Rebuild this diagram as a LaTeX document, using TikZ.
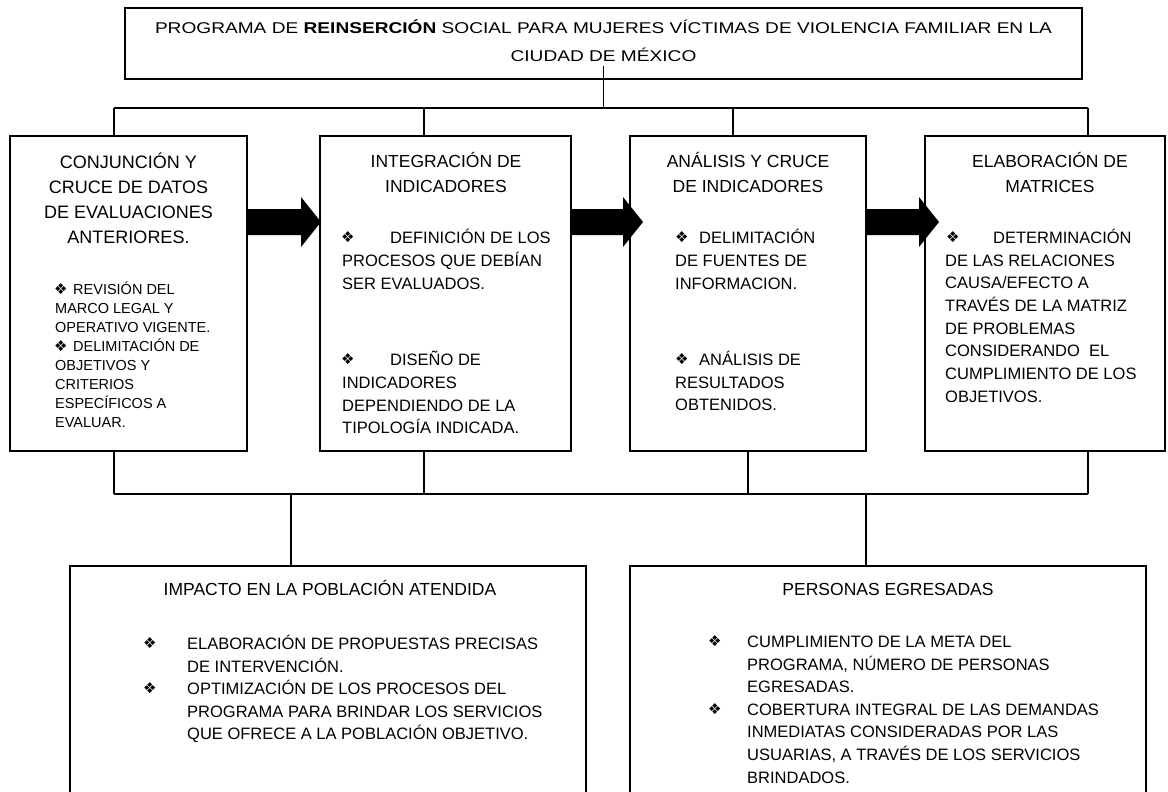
\documentclass[tikz,border=0pt]{standalone}
\usepackage{fontspec}
\usepackage{graphicx}
\setmainfont{Liberation Sans}
\newfontfamily\dejavu{DejaVu Sans}
\usetikzlibrary{calc}
\newsavebox\titlebox
\newlength\titlew
\newcommand\barrow[2]{\fill ($(#1.north east)+(0,-73)$) -- ++({#2-20},0) -- ++(0,12) -- ++(20,-25) -- ++(-20,-25) -- ++(0,12) -- ++({-(#2-20)},0) -- cycle;}
\newcommand\titleone{PROGRAMA DE \textbf{REINSERCIÓN} SOCIAL PARA MUJERES VÍCTIMAS DE VIOLENCIA FAMILIAR EN LA}
\tikzset{
  box/.style={draw, line width=1.3pt, inner sep=0pt, outer sep=0pt, anchor=north west},
  conn/.style={line width=1.3pt},
  hdrA/.style={anchor=base, inner sep=0pt, font=\fontsize{18}{20}\selectfont},
  hdr/.style={anchor=base, inner sep=0pt, font=\fontsize{17.5}{20}\selectfont},
  txt/.style={anchor=base west, inner sep=0pt, font=\fontsize{16.5}{20}\selectfont},
  smalltxt/.style={anchor=base west, inner sep=0pt, font=\fontsize{14.5}{18}\selectfont},
  bul/.style={anchor=west, inner sep=0pt, font=\dejavu\fontsize{15}{16}\selectfont},
  ttl/.style={anchor=base, inner sep=0pt, font=\fontsize{15.6}{20}\selectfont},
}
\begin{document}
\begin{tikzpicture}[x=1pt,y=1pt]
\useasboundingbox (0,0) rectangle (1168,-792);
\fill[white] (0,0) rectangle (1168,-792);
\clip (0,0) rectangle (1168,-792);
% boxes
\node[box, minimum width=957, minimum height=71] (top) at (125,-8) {};
\node[box, minimum width=237, minimum height=315] (b1) at (10,-136) {};
\node[box, minimum width=251, minimum height=315] (b2) at (320,-136) {};
\node[box, minimum width=236, minimum height=315] (b3) at (630,-136) {};
\node[box, minimum width=240, minimum height=315] (b4) at (925,-136) {};
\node[box, minimum width=516, minimum height=250] (b5) at (70,-566) {};
\node[box, minimum width=516, minimum height=250] (b6) at (630,-566) {};
% title
\node[ttl] (title0) at (603.5,-33.5) {\sbox\titlebox{\titleone}\setlength\titlew{\wd\titlebox}\pgfmathsetmacro\tsx{897/\titlew}\xdef\tsxg{\tsx}\scalebox{\tsx}[1]{\usebox\titlebox}};
\node[ttl] (title1) at (603.5,-61.5) {\scalebox{\tsxg}[1]{CIUDAD DE MÉXICO}};
% connectors top
\coordinate (t1) at (114,-108);
\coordinate (t2) at (424,-108);
\coordinate (t3) at (733,-108);
\coordinate (t4) at (1088,-108);
\draw[conn] ([yshift=13pt]top.south) -- (top.south |- t1);
\draw[conn] (t1) -- (t4);
\foreach \k in {1,...,4} \draw[conn] (t\k) -- (t\k |- b\k.north);
% connectors bottom
\coordinate (u1) at (114,-494);
\coordinate (u2) at (424,-494);
\coordinate (u3) at (748,-494);
\coordinate (u4) at (1088,-494);
\draw[conn] (u1) -- (u4);
\foreach \k in {1,...,4} \draw[conn] (u\k) -- (u\k |- b\k.south);
\coordinate (d5) at (291,-494);
\coordinate (d6) at (866,-494);
\draw[conn] (d5) -- (d5 |- b5.north);
\draw[conn] (d6) -- (d6 |- b6.north);
% block arrows
\barrow{b1}{74}
\barrow{b2}{72}
\barrow{b3}{73}
% box 1
\node[hdrA] (h1a) at (128.5,-168) {CONJUNCIÓN Y};
\node[hdrA] (h1b) at (128.5,-193) {CRUCE DE DATOS};
\node[hdrA] (h1c) at (128.5,-218) {DE EVALUACIONES};
\node[hdrA] (h1d) at (128.5,-243) {ANTERIORES.};
\node[bul] (p1a) at (54,-289) {❖};
\node[smalltxt] (l1a) at (73,-294) {REVISIÓN DEL};
\node[smalltxt] (l1b) at (55,-313) {MARCO LEGAL Y};
\node[smalltxt] (l1c) at (55,-332) {OPERATIVO VIGENTE.};
\node[bul] (p1b) at (54,-346) {❖};
\node[smalltxt] (l1d) at (73,-351) {DELIMITACIÓN DE};
\node[smalltxt] (l1e) at (55,-370) {OBJETIVOS Y};
\node[smalltxt] (l1f) at (55,-389) {CRITERIOS};
\node[smalltxt] (l1g) at (55,-408) {ESPECÍFICOS A};
\node[smalltxt] (l1h) at (55,-427) {EVALUAR.};
% box 2
\node[hdr] (h2a) at (446,-167) {INTEGRACIÓN DE};
\node[hdr] (h2b) at (446,-192) {INDICADORES};
\node[bul] (p2a) at (341,-237) {❖};
\node[txt] (l2a) at (390,-243) {DEFINICIÓN DE LOS};
\node[txt] (l2b) at (342,-266) {PROCESOS QUE DEBÍAN};
\node[txt] (l2c) at (342,-289) {SER EVALUADOS.};
\node[bul] (p2b) at (341,-359) {❖};
\node[txt] (l2d) at (390,-365) {DISEÑO DE};
\node[txt] (l2e) at (342,-388) {INDICADORES};
\node[txt] (l2f) at (342,-411) {DEPENDIENDO DE LA};
\node[txt] (l2g) at (342,-433) {TIPOLOGÍA INDICADA.};
% box 3
\node[hdr] (h3a) at (748,-167) {ANÁLISIS Y CRUCE};
\node[hdr] (h3b) at (748,-192) {DE INDICADORES};
\node[bul] (p3a) at (675,-237) {❖};
\node[txt] (l3a) at (699,-243) {DELIMITACIÓN};
\node[txt] (l3b) at (675,-266) {DE FUENTES DE};
\node[txt] (l3c) at (675,-289) {INFORMACION.};
\node[bul] (p3b) at (675,-359) {❖};
\node[txt] (l3d) at (699,-365) {ANÁLISIS DE};
\node[txt] (l3e) at (675,-388) {RESULTADOS};
\node[txt] (l3f) at (675,-410) {OBTENIDOS.};
% box 4
\node[hdr] (h4a) at (1050,-167) {ELABORACIÓN DE};
\node[hdr] (h4b) at (1050,-192) {MATRICES};
\node[bul] (p4a) at (946,-237) {❖};
\node[txt] (l4a) at (993,-243) {DETERMINACIÓN};
\node[txt] (l4b) at (945,-266) {DE LAS RELACIONES};
\node[txt] (l4c) at (945,-288) {CAUSA/EFECTO A};
\node[txt] (l4d) at (945,-311) {TRAVÉS DE LA MATRIZ};
\node[txt] (l4e) at (945,-334) {DE PROBLEMAS};
\node[txt] (l4f) at (945,-356) {CONSIDERANDO\ \ EL};
\node[txt] (l4g) at (945,-379) {CUMPLIMIENTO DE LOS};
\node[txt] (l4h) at (945,-402) {OBJETIVOS.};
% box 5
\node[hdr] (h5) at (330,-595) {IMPACTO EN LA POBLACIÓN ATENDIDA};
\node[bul] (p5a) at (143,-643) {❖};
\node[txt] (l5a) at (187,-649) {ELABORACIÓN DE PROPUESTAS PRECISAS};
\node[txt] (l5b) at (187,-672) {DE INTERVENCIÓN.};
\node[bul] (p5b) at (143,-688) {❖};
\node[txt] (l5c) at (187,-694) {OPTIMIZACIÓN DE LOS PROCESOS DEL};
\node[txt] (l5d) at (187,-717) {PROGRAMA PARA BRINDAR LOS SERVICIOS};
\node[txt] (l5e) at (187,-739) {QUE OFRECE A LA POBLACIÓN OBJETIVO.};
% box 6
\node[hdr] (h6) at (888,-595) {PERSONAS EGRESADAS};
\node[bul] (p6a) at (708,-641) {❖};
\node[txt] (l6a) at (747,-647) {CUMPLIMIENTO DE LA META DEL};
\node[txt] (l6b) at (747,-670) {PROGRAMA, NÚMERO DE PERSONAS};
\node[txt] (l6c) at (747,-692) {EGRESADAS.};
\node[bul] (p6b) at (708,-709) {❖};
\node[txt] (l6d) at (747,-715) {COBERTURA INTEGRAL DE LAS DEMANDAS};
\node[txt] (l6e) at (747,-737) {INMEDIATAS CONSIDERADAS POR LAS};
\node[txt] (l6f) at (747,-760) {USUARIAS, A TRAVÉS DE LOS SERVICIOS};
\node[txt] (l6g) at (747,-783) {BRINDADOS.};
\end{tikzpicture}
\end{document}
